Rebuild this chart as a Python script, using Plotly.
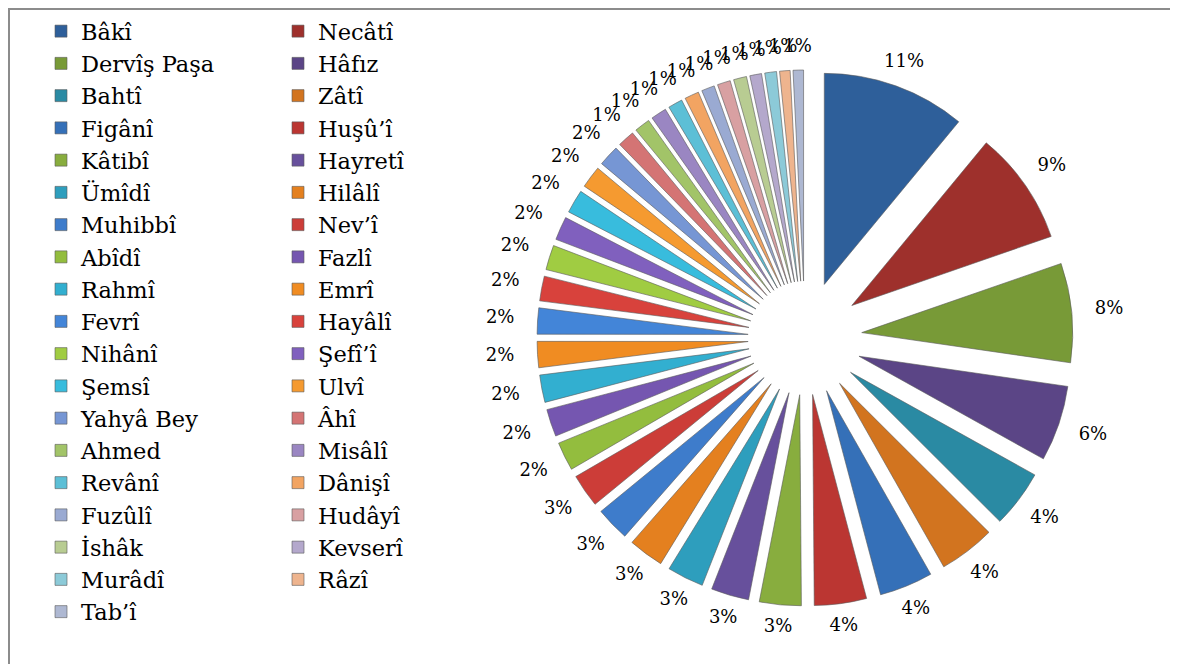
import math
import plotly.graph_objects as go

# ---- data ----
poets = ["Bâkî", "Necâtî", "Dervîş Paşa", "Hâfız", "Bahtî", "Zâtî", "Figânî", "Huşû’î",
         "Kâtibî", "Hayretî", "Ümîdî", "Hilâlî", "Muhibbî", "Nev’î", "Abîdî", "Fazlî",
         "Rahmî", "Emrî", "Fevrî", "Hayâlî", "Nihânî", "Şefî’î", "Şemsî", "Ulvî",
         "Yahyâ Bey", "Âhî", "Ahmed", "Misâlî", "Revânî", "Dânişî", "Fuzûlî", "Hudâyî",
         "İshâk", "Kevserî", "Murâdî", "Râzî", "Tab’î"]
shares = [11.0, 8.7, 7.6, 5.8, 4.4, 4.3, 4.1, 4.0,
          3.2, 2.9, 2.8, 2.7, 2.6, 2.55, 2.2, 2.1,
          2.1, 2.0, 2.0, 1.9, 1.9, 1.8, 1.8, 1.7,
          1.6, 1.3, 1.2, 1.2, 1.1, 1.1, 1.0, 1.0,
          1.0, 0.9, 0.9, 0.8, 0.8]

# ---- style ----
colors = ["#2E5F9A", "#9E302C", "#789A37", "#5B4586", "#2A8AA3", "#D2741F",
          "#3570B8", "#BB3632", "#88AD3E", "#67509C", "#2E9EBD", "#E4801F",
          "#3E7CCB", "#CC3D38", "#93BD3E", "#7556B0", "#32AFD0", "#F08C22",
          "#4385D8", "#D8423C", "#A0CC42", "#8060BE", "#38BCDD", "#F59A30",
          "#7696D4", "#D47474", "#A2C468", "#9A86C2", "#5CBFD6", "#F2A462",
          "#9AAAD2", "#D8A0A2", "#B8CC92", "#B4A8CC", "#8CCAD8", "#EEB48E",
          "#AEB8D2"]

W, H = 1178, 664
OFF = 8                    # page body margin of the rendered html
ML = 420
PW = W - ML

cx, cy = 805 - OFF, 338 - OFF   # pie centre (px, figure coords)
RP = 268                   # outer extent of exploded pie (px)
LAB_A, LAB_B = 1.14, 1.085 # label ellipse (horizontal, vertical) relative to RP
R_MAX = 1.17               # radial range of label overlay
RQ = RP * R_MAX

pie_dom_x = [(cx - RP - ML) / PW, (cx + RP - ML) / PW]
pie_dom_y = [(H - cy - RP) / H, (H - cy + RP) / H]
pol_dom_x = [(cx - RQ - ML) / PW, (cx + RQ - ML) / PW]
pol_dom_y = [(H - cy - RQ) / H, (H - cy + RQ) / H]

total = sum(shares)
mid_theta = []
acc = 0.0
for v in shares:
    mid_theta.append((acc + v / 2) / total * 360.0)
    acc += v
lab_r = [1.0 / math.sqrt((math.sin(math.radians(t)) / LAB_A) ** 2 +
                         (math.cos(math.radians(t)) / LAB_B) ** 2) for t in mid_theta]
pct_text = [f"{int(v / total * 100 + 0.5)}%" for v in shares]

fig = go.Figure()
fig.add_trace(go.Pie(
    labels=poets,
    values=shares,
    sort=False,
    direction="clockwise",
    rotation=0,
    pull=0.27,
    marker=dict(colors=colors, line=dict(color="rgba(90,90,90,0.6)", width=1)),
    textinfo="none",
    domain=dict(x=pie_dom_x, y=pie_dom_y),
    hoverinfo="label+percent",
))
fig.add_trace(go.Scatterpolar(
    r=lab_r,
    theta=mid_theta,
    text=pct_text,
    mode="text",
    textposition="middle center",
    textfont=dict(family="DejaVu Serif", size=18, color="#000000"),
    showlegend=False,
    hoverinfo="skip",
    cliponaxis=False,
))

fig.update_layout(
    width=W, height=H,
    margin=dict(l=ML, r=0, t=0, b=0, autoexpand=False),
    paper_bgcolor="white",
    plot_bgcolor="white",
    showlegend=True,
    polar=dict(
        domain=dict(x=pol_dom_x, y=pol_dom_y),
        bgcolor="rgba(0,0,0,0)",
        radialaxis=dict(range=[0, R_MAX], visible=False, showgrid=False),
        angularaxis=dict(visible=False, rotation=90, direction="clockwise", showgrid=False),
    ),
    legend=dict(
        orientation="h",
        x=(33 - ML) / PW, xanchor="left",
        y=(H - 2) / H, yanchor="top",
        entrywidth=192, entrywidthmode="pixels",
        maxheight=662,
        font=dict(family="DejaVu Serif", size=22.5, color="#000000"),
        traceorder="normal",
        bgcolor="rgba(0,0,0,0)",
    ),
    shapes=[dict(type="rect", xref="paper", yref="paper",
                 x0=(1 - ML) / PW, x1=(1169 - ML) / PW,
                 y0=-0.05, y1=(H - 1) / H,
                 line=dict(color="#8C8C8C", width=2), fillcolor="rgba(0,0,0,0)",
                 layer="below")],
)

fig.write_html("out.html")
